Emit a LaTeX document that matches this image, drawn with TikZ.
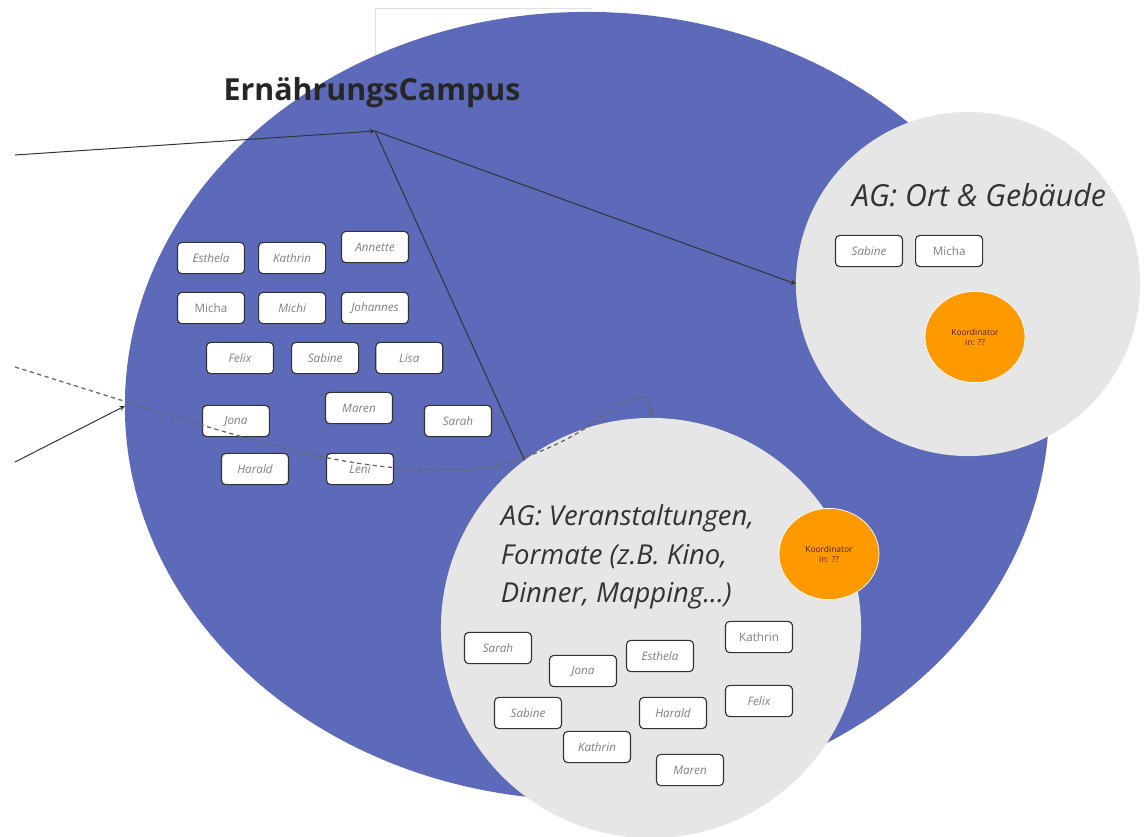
\documentclass[tikz,border=0pt]{standalone}
\usepackage{fontspec}
\setmainfont{Open Sans}
\usetikzlibrary{shapes,arrows,positioning}

\definecolor{campusblue}{HTML}{5C6AB9}
\definecolor{aggray}{HTML}{E6E6E6}
\definecolor{koordorange}{HTML}{FF9900}
\definecolor{inktext}{HTML}{333333}

\begin{document}
\begin{tikzpicture}[
    x=0.025cm, y=-0.025cm,
    campus/.style={ellipse, fill=campusblue, minimum width=23.1cm, minimum height=19.7cm, inner sep=0pt, outer sep=0pt},
    agcircle/.style={circle, fill=aggray, inner sep=0pt, outer sep=0pt},
    koord/.style={ellipse, fill=koordorange, draw=white, line width=0.5pt, minimum width=2.5cm, minimum height=2.28cm, align=center, font=\fontsize{6}{7}\selectfont, text=black!70!orange, inner sep=0pt},
    person/.style={rectangle, draw=inktext, line width=0.8pt, fill=white, rounded corners=3pt, minimum width=1.675cm, minimum height=0.78cm, inner sep=0pt, font=\fontsize{8.3}{10}\selectfont\itshape, text=black!50},
    personup/.style={person, font=\fontsize{8.3}{10}\selectfont},
    agtitle/.style={font=\fontsize{21.6}{26}\selectfont\itshape, text=inktext},
    arrow/.style={line width=0.7pt, draw=inktext, ->, >=stealth},
    link/.style={line width=0.7pt, draw=inktext},
    dashlink/.style={line width=0.9pt, draw=black!60, dash pattern=on 3pt off 2.5pt, ->, >=stealth}
]
\useasboundingbox (0,0) rectangle (1148,836);

% frame edge behind the campus
\draw[black!12, line width=0.5pt] (375,300) |- (592,8);

% Campus and working groups
\node[campus] (campus) at (587,406) {};
\node[agcircle, minimum size=8.6cm] (ort) at (968,284) {};
\node[agcircle, minimum size=10.5cm] (veran) at (651,628) {};

\node[koord] (koordOrt) at (975,337) {Koordinator\\in: ??};
\node[koord] (koordVeran) at (829,554) {Koordinator\\in: ??};

% Titles
\node[font=\fontsize{21.6}{26}\selectfont\bfseries, text=black!85] (title) at (372,93) {ErnährungsCampus};
\node[agtitle, anchor=base] (ortTitle) at (979,206) {AG: Ort \& Gebäude};
\node[agtitle, font=\fontsize{19.5}{27.4}\selectfont\itshape, align=left, anchor=west] (veranTitle) at (496,557) {AG: Veranstaltungen,\\Formate (z.B. Kino,\\Dinner, Mapping...)};

% Campus members
\node[person] (esthela) at (211,258) {Esthela};
\node[person, right=0.325cm of esthela] (kathrin) {Kathrin};
\node[person] (annette) at (375,247) {Annette};
\node[personup] (micha) at (211,308) {Micha};
\node[person, right=0.325cm of micha] (michi) {Michi};
\node[person] (johannes) at (375,308) {Johannes};
\node[person] (felix) at (240,358) {Felix};
\node[person, right=0.425cm of felix] (sabine) {Sabine};
\node[person, right=0.4cm of sabine] (lisa) {Lisa};
\node[person] (jona) at (236,421) {Jona};
\node[person] (maren) at (359,408) {Maren};
\node[person] (sarah) at (458,421) {Sarah};
\node[person] (harald) at (255,469) {Harald};
\node[person] (leni) at (360,469) {Leni};

% AG Ort & Gebaeude
\node[person] (ortSabine) at (869,251) {Sabine};
\node[personup, right=0.3cm of ortSabine] (ortMicha) {Micha};

% AG Veranstaltungen
\node[person] (veranSarah) at (498,648) {Sarah};
\node[person] (veranJona) at (583,671) {Jona};
\node[person] (veranEsthela) at (660,656) {Esthela};
\node[personup] (veranKathrinA) at (759,637) {Kathrin};
\node[person] (veranSabine) at (528,713) {Sabine};
\node[person] (veranHarald) at (673,713) {Harald};
\node[person] (veranFelix) at (759,701) {Felix};
\node[person] (veranKathrinB) at (597,747) {Kathrin};
\node[person] (veranMaren) at (690,770) {Maren};

% Connectors
\coordinate (hub) at (375,131);
\coordinate (westTop) at (15,155);
\coordinate (westMid) at (15,367);
\coordinate (westLow) at (15,462);
\draw[arrow] (westTop) -- (hub);
\draw[arrow] (hub) -- (ort.west);
\draw[link] (hub) -- (veran.127);
\draw[arrow] (westLow) -- (campus.west);
\draw[dashlink] (westMid) .. controls (250,440) and (330,470) .. (450,470) .. controls (500,472) and (570,445) .. (610,410) .. controls (630,397) and (652,388) .. (veran.north);

\end{tikzpicture}
\end{document}
